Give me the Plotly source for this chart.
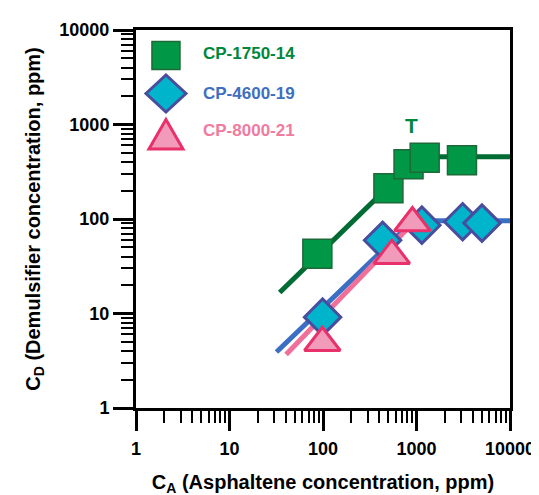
import numpy as np
import plotly.graph_objects as go

# ---- data ----
tick_vals = [1, 10, 100, 1000, 10000]
tick_text = ["1", "10", "100", "1000", "10000"]
minor_vals = [m * d for d in [1, 10, 100, 1000] for m in range(2, 10)]

sq_x = [87, 501, 822, 1223, 3064]
sq_y = [43, 212, 379, 446, 419]
sq_line_x = [34.4, 1067, 10000]
sq_line_y = [16.7, 455, 455]

di_x = [99, 434, 1141, 3117, 5014]
di_y = [9.15, 59.5, 86, 93.6, 90.5]
di_line_x = [31.8, 925, 10000]
di_line_y = [3.91, 95.8, 95.8]

tr_x = [98.4, 545, 904]
tr_y = [4.9, 40.9, 90.7]
tr_line_x = [40.3, 950]
tr_line_y = [3.68, 94]

names = ["CP-1750-14", "CP-4600-19", "CP-8000-21"]
T_label = ("T", 889, 971)

# ---- styling ----
FONT = "Liberation Sans, Arial, sans-serif"
G_FILL, G_EDGE, G_LINE, G_TXT = "#009846", "#1d6a38", "#006b32", "#00873e"
B_FILL, B_EDGE, B_LINE, B_TXT = "#00b4cc", "#4a4d9e", "#3b6fc4", "#3f6fc0"
P_FILL, P_EDGE, P_LINE, P_TXT = "#f19ab9", "#e8316b", "#f0709a", "#f07ba0"

W, H = 539, 495
L, R, T, B = 128, 24, 22, 86
PW, PH = W - L - R, H - T - B

fig = go.Figure()
fig.add_trace(go.Scatter(x=sq_line_x, y=sq_line_y, mode="lines",
                         line=dict(color=G_LINE, width=5), showlegend=False))
fig.add_trace(go.Scatter(x=di_line_x, y=di_line_y, mode="lines",
                         line=dict(color=B_LINE, width=5), showlegend=False))
fig.add_trace(go.Scatter(x=tr_line_x, y=tr_line_y, mode="lines",
                         line=dict(color=P_LINE, width=5), showlegend=False))
fig.add_trace(go.Scatter(x=sq_x, y=sq_y, mode="markers", name=names[0],
                         marker=dict(symbol="square", size=29, color=G_FILL,
                                     line=dict(color=G_EDGE, width=1.5)),
                         showlegend=False))
fig.add_trace(go.Scatter(x=di_x, y=di_y, mode="markers", name=names[1],
                         marker=dict(symbol="diamond", size=28, color=B_FILL,
                                     line=dict(color=B_EDGE, width=3)),
                         showlegend=False))
fig.add_trace(go.Scatter(x=tr_x, y=tr_y, mode="markers", name=names[2],
                         marker=dict(symbol="triangle-up", size=31, color=P_FILL,
                                     line=dict(color=P_EDGE, width=3)),
                         showlegend=False))


def px2paper(px, py):
    return (px - L) / PW, 1 - (py - T) / PH


# manual legend (glyphs as layout shapes, text as annotations)
legend_items = [
    ("M -14 -14 L 14 -14 L 14 14 L -14 14 Z", G_FILL, G_EDGE, 1.5, G_TXT, 48, 46),
    ("M -20 0 L 0 18.5 L 20 0 L 0 -18.5 Z", B_FILL, B_EDGE, 3, B_TXT, 87, 87),
    ("M -17 -15 L 17 -15 L 0 14.5 Z", P_FILL, P_EDGE, 3, P_TXT, 128.5, 125),
]
shapes = []
annotations = []
for (path, fill, edge, lw, tcol, gy, ty_), nm in zip(legend_items, names):
    ax_, ay_ = px2paper(159, gy)
    shapes.append(dict(type="path", xref="paper", yref="paper",
                       xsizemode="pixel", ysizemode="pixel",
                       xanchor=ax_, yanchor=ay_, path=path,
                       fillcolor=fill, line=dict(color=edge, width=lw)))
    tx, ty = px2paper(195, ty_)
    annotations.append(dict(text=nm, xref="paper", yref="paper", x=tx, y=ty,
                            xanchor="left", yanchor="middle", showarrow=False,
                            font=dict(family=FONT, size=17, color=tcol, weight="bold")))

annotations.append(dict(text=T_label[0], x=np.log10(T_label[1]), y=np.log10(T_label[2]),
                        xref="x", yref="y", showarrow=False,
                        font=dict(family=FONT, size=21, color=G_TXT, weight="bold")))

axis_common = dict(
    type="log", range=[0, 4], tickmode="array", tickvals=tick_vals, ticktext=tick_text,
    ticks="outside", ticklen=20, tickwidth=2.5, tickcolor="black",
    showline=True, linecolor="black", linewidth=3, mirror=True,
    showgrid=False, zeroline=False,
    tickfont=dict(family=FONT, size=18, color="black", weight="bold"),
    minor=dict(tickmode="array", tickvals=minor_vals, ticks="outside",
               ticklen=12, tickwidth=2, tickcolor="black", showgrid=False),
)
fig.update_xaxes(**axis_common, ticklabelstandoff=2, ticklabeloverflow="allow",
                 title=dict(text="C<sub>A</sub> (Asphaltene concentration, ppm)",
                            font=dict(family=FONT, size=20, color="black", weight="bold"),
                            standoff=18))
fig.update_yaxes(**axis_common,
                 title=dict(text="C<sub>D</sub> (Demulsifier concentration, ppm)",
                            font=dict(family=FONT, size=20, color="black", weight="bold"),
                            standoff=14))

fig.update_layout(width=W, height=H, margin=dict(l=L, r=R, t=T, b=B),
                  paper_bgcolor="white", plot_bgcolor="white",
                  shapes=shapes, annotations=annotations, showlegend=False)
fig.write_html("out.html")
